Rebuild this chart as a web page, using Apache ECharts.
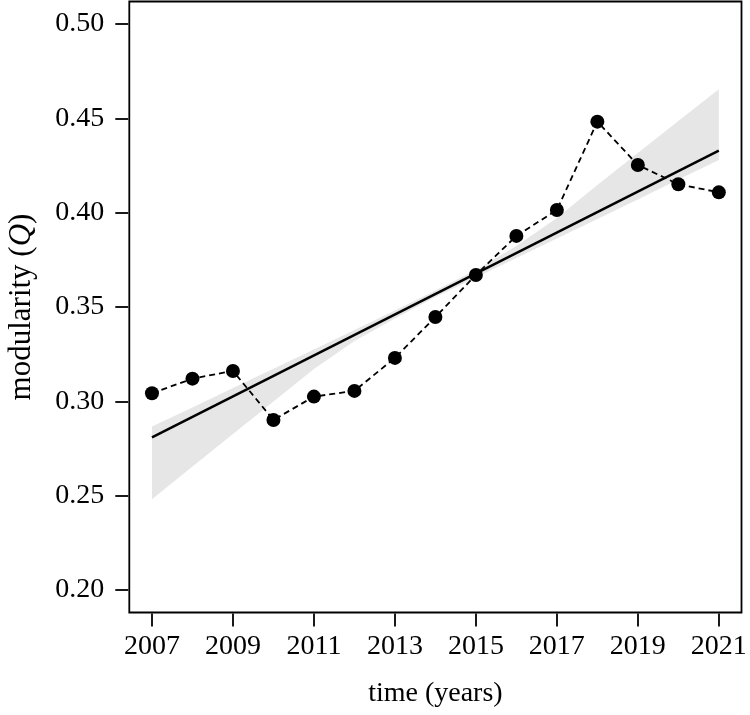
<!DOCTYPE html>
<html><head><meta charset="utf-8">
<script src="https://cdn.jsdelivr.net/npm/echarts@6/dist/echarts.min.js"></script>
<style>html,body{margin:0;padding:0;background:#fff}#c{width:750px;height:715px}</style>
</head><body><div id="c"></div>
<script>
const years = [2007,2008,2009,2010,2011,2012,2013,2014,2015,2016,2017,2018,2019,2020,2021];
const modularity = [0.3043,0.3120,0.3161,0.2901,0.3025,0.3055,0.3230,0.3447,0.3670,0.3877,0.4014,0.4483,0.4253,0.4151,0.4108];
const fitYears = [2007, 2021];
const fitValues = [0.2809, 0.4329];
const bandLower = [0.2481,0.2654,0.2827,0.2999,0.3171,0.3320,0.3439,0.3553,0.3657,0.3760,0.3863,0.3967,0.4070,0.4176,0.4280];
const bandUpper = [0.2866,0.2967,0.3071,0.3173,0.3275,0.3378,0.3482,0.3588,0.3696,0.3824,0.3972,0.4147,0.4317,0.4486,0.4655];
const xTicks = [2007,2009,2011,2013,2015,2017,2019,2021];
const yTicks = [0.20,0.25,0.30,0.35,0.40,0.45,0.50];

const FONT = 'Liberation Serif';
const chart = echarts.init(document.getElementById('c'), null, {renderer:'canvas'});
chart.setOption({
  backgroundColor:'#fff',
  animation:false,
  grid:{left:129.3, right:8.5, top:1.5, bottom:102.5, show:true, borderColor:'#000', borderWidth:1.8, backgroundColor:'transparent', containLabel:false, outerBoundsMode:'none'},
  xAxis:{
    type:'value', min:2006.44, max:2021.56, offset:1,
    axisLine:{show:false}, splitLine:{show:false},
    axisTick:{show:true, length:13, customValues:xTicks, lineStyle:{color:'#000', width:1.8}},
    axisLabel:{customValues:xTicks, margin:19, color:'#000', fontFamily:FONT, fontSize:28, formatter:v=>String(v)},
    name:'time (years)', nameLocation:'middle', nameGap:66,
    nameTextStyle:{color:'#000', fontFamily:FONT, fontSize:28}
  },
  yAxis:{
    type:'value', min:0.188, max:0.512, offset:1,
    axisLine:{show:false}, splitLine:{show:false},
    axisTick:{show:true, length:13, customValues:yTicks, lineStyle:{color:'#000', width:1.8}},
    axisLabel:{customValues:yTicks, margin:24, color:'#000', fontFamily:FONT, fontSize:28, formatter:v=>v.toFixed(2)},
    name:'{a|modularity (}{b|Q}{a|)}', nameLocation:'middle', nameGap:91, nameRotate:90,
    nameTextStyle:{color:'#000', fontFamily:FONT, fontSize:31,
      rich:{a:{fontFamily:FONT, fontSize:31, color:'#000'}, b:{fontFamily:FONT, fontSize:31, fontStyle:'italic', color:'#000'}}}
  },
  series:[
    {
      type:'custom', z:1, silent:true,
      data:[0],
      renderItem:function(params, api){
        const pts = [];
        for (let i=0;i<years.length;i++) pts.push(api.coord([years[i], bandUpper[i]]));
        for (let i=years.length-1;i>=0;i--) pts.push(api.coord([years[i], bandLower[i]]));
        return {type:'polygon', shape:{points:pts}, style:{fill:'#e6e6e6', stroke:null}};
      }
    },
    {
      type:'line', z:2, silent:true, symbol:'none',
      data: fitYears.map((y,i)=>[y, fitValues[i]]),
      lineStyle:{color:'#000', width:2.5}
    },
    {
      type:'line', z:3, silent:true, symbol:'none',
      data: years.map((y,i)=>[y, modularity[i]]),
      lineStyle:{color:'#000', width:1.8, type:[6,4]}
    },
    {
      type:'scatter', z:4, silent:true, symbol:'circle', symbolSize:14,
      data: years.map((y,i)=>[y, modularity[i]]),
      itemStyle:{color:'#000', opacity:1}
    }
  ]
});
</script></body></html>
